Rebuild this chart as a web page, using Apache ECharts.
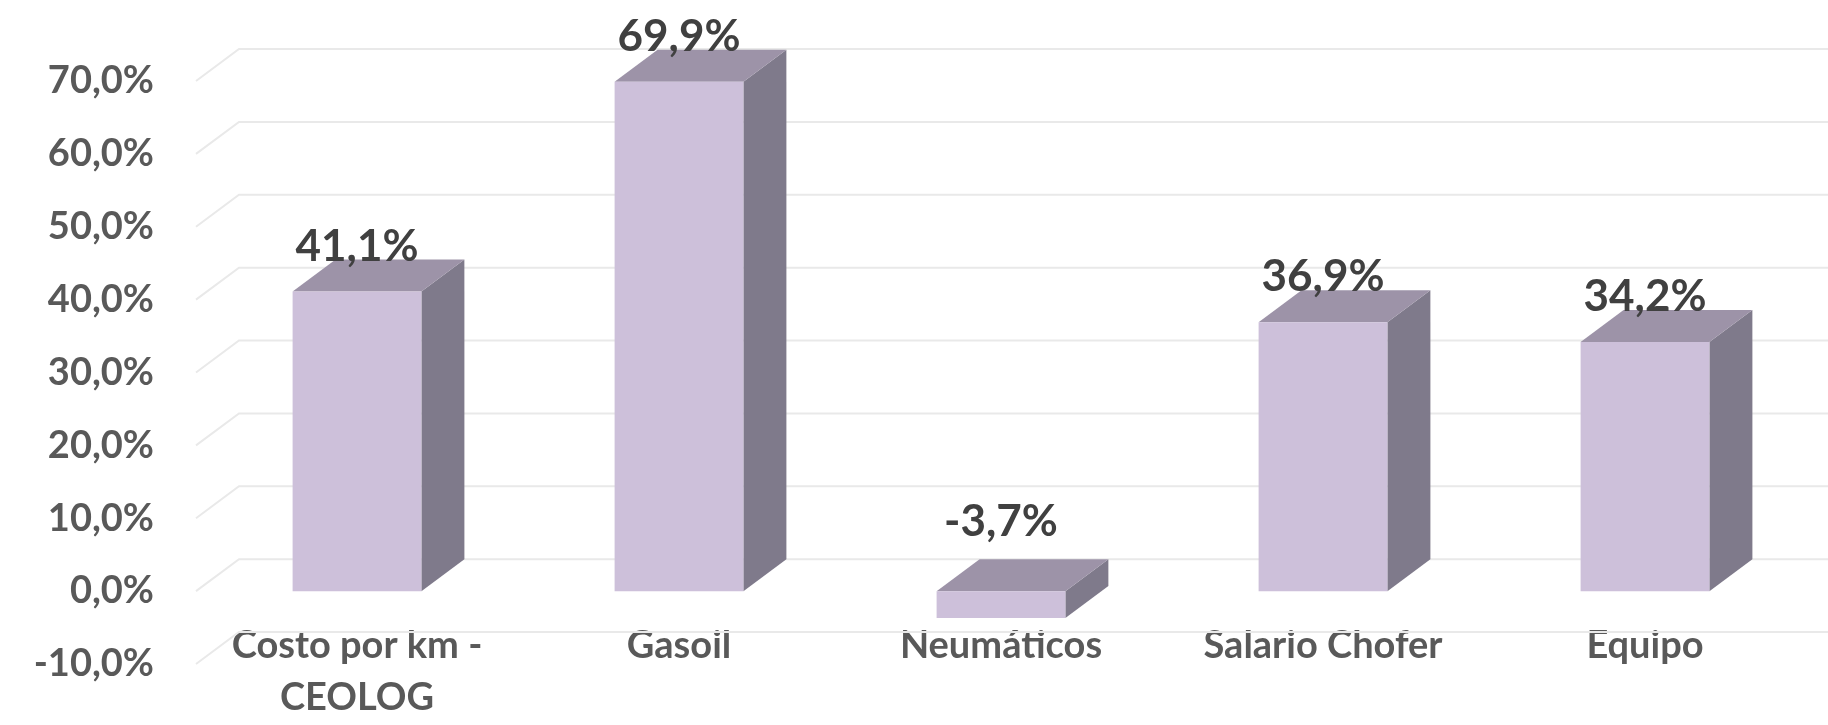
<!DOCTYPE html>
<html>
<head>
<meta charset="utf-8">
<script src="https://cdn.jsdelivr.net/npm/echarts@6/dist/echarts.min.js"></script>
<style>
html,body{margin:0;padding:0;background:#fff;}
#chart{width:1828px;height:725px;}
</style>
</head>
<body>
<div id="chart"></div>
<script>
const categories = ['Costo por km -\nCEOLOG', 'Gasoil', 'Neumáticos', 'Salario Chofer', 'Equipo'];
const values = [41.1, 69.9, -3.7, 36.9, 34.2];
const yTicks = [-10, 0, 10, 20, 30, 40, 50, 60, 70];

const DX = 43, DY = 32;
const FONT = 'Lato, "Open Sans", sans-serif';
const fmt = v => v.toFixed(1).replace('.', ',') + '%';

const chart = echarts.init(document.getElementById('chart'));
chart.setOption({
  animation: false,
  backgroundColor: '#ffffff',
  grid: { left: 196, right: 22, top: 81, bottom: 61, containLabel: false },
  xAxis: {
    type: 'category',
    data: categories,
    axisLine: { show: false },
    axisTick: { show: false },
    splitLine: { show: false },
    axisLabel: {
      margin: -44,
      color: '#595959',
      fontFamily: FONT,
      fontWeight: 'bold',
      fontSize: 38,
      lineHeight: 52,
      interval: 0
    }
  },
  yAxis: {
    type: 'value',
    min: -10,
    max: 70,
    interval: 10,
    axisLine: { show: false },
    axisTick: { show: false },
    splitLine: { show: false },
    axisLabel: {
      margin: 42,
      color: '#595959',
      fontFamily: FONT,
      fontWeight: 'bold',
      fontSize: 38,
      formatter: v => fmt(v)
    }
  },
  series: [
    {
      type: 'custom',
      z: 1,
      silent: true,
      data: yTicks.map(t => [0, t]),
      renderItem: function (params, api) {
        const cs = params.coordSys;
        const y = api.coord([0, api.value(1)])[1];
        const x0 = cs.x;
        const x1 = cs.x + cs.width + DX + 40;
        return {
          type: 'polyline',
          shape: { points: [[x0, y], [x0 + DX, y - DY], [x1, y - DY]] },
          style: { stroke: '#E9E9E9', lineWidth: 2, fill: null }
        };
      }
    },
    {
      type: 'custom',
      z: 5,
      data: values.map((v, i) => [i, v]),
      renderItem: function (params, api) {
        const idx = api.value(0);
        const v = api.value(1);
        const c0 = api.coord([idx, 0]);
        const cv = api.coord([idx, v]);
        const bw = api.size([1, 0])[0] * 0.4;
        const xl = c0[0] - bw / 2, xr = c0[0] + bw / 2;
        const yTop = Math.min(c0[1], cv[1]);
        const yBot = Math.max(c0[1], cv[1]);
        return {
          type: 'group',
          children: [
            {
              type: 'polygon',
              shape: { points: [[xr, yTop], [xr + DX, yTop - DY], [xr + DX, yBot - DY], [xr, yBot]] },
              style: { fill: '#7F7A8B' }
            },
            {
              type: 'polygon',
              shape: { points: [[xl, yTop], [xr, yTop], [xr + DX, yTop - DY], [xl + DX, yTop - DY]] },
              style: { fill: '#9D93A8' }
            },
            {
              type: 'rect',
              shape: { x: xl, y: yTop, width: bw, height: yBot - yTop },
              style: { fill: '#CDC0DA' }
            },
            {
              type: 'text',
              style: {
                text: fmt(v),
                x: c0[0],
                y: yTop - DY - (v < 0 ? 37 : 13),
                align: 'center',
                verticalAlign: 'middle',
                fill: '#404040',
                font: 'bold 44px ' + FONT
              }
            }
          ]
        };
      }
    }
  ]
});
</script>
</body>
</html>
